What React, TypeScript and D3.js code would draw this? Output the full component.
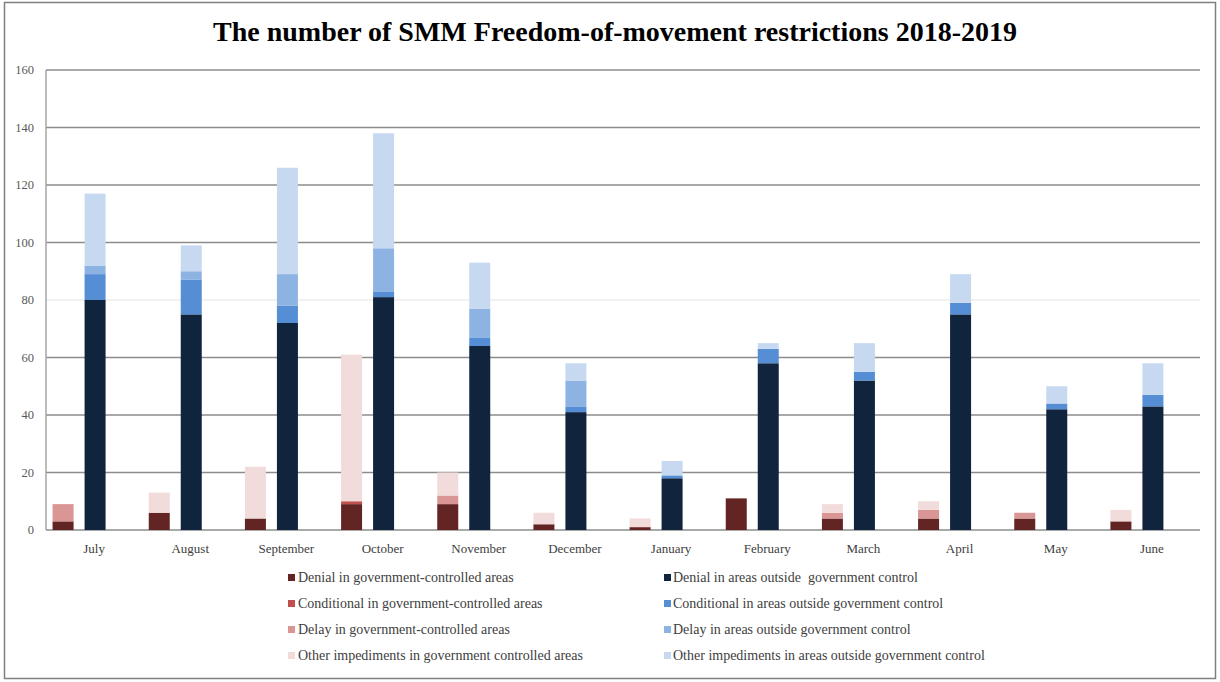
import React from "react";
import * as d3 from "d3";

const months = ["July", "August", "September", "October", "November", "December", "January", "February", "March", "April", "May", "June"];

// Government-controlled areas
const govDenial = [3, 6, 4, 9, 9, 2, 1, 11, 4, 4, 4, 3];
const govConditional = [0, 0, 0, 1, 0, 0, 0, 0, 0, 0, 0, 0];
const govDelay = [6, 0, 0, 0, 3, 0, 0, 0, 2, 3, 2, 0];
const govOther = [0, 7, 18, 51, 8, 4, 3, 0, 3, 3, 0, 4];

// Areas outside government control
const outDenial = [80, 75, 72, 81, 64, 41, 18, 58, 52, 75, 42, 43];
const outConditional = [9, 12, 6, 2, 3, 2, 1, 5, 3, 4, 2, 4];
const outDelay = [3, 3, 11, 15, 10, 9, 0, 0, 0, 0, 0, 0];
const outOther = [25, 9, 37, 40, 16, 6, 5, 2, 10, 10, 6, 11];

const yTicks = [0, 20, 40, 60, 80, 100, 120, 140, 160];

const govLabels = [
  "Denial in government-controlled areas",
  "Conditional in government-controlled areas",
  "Delay in government-controlled areas",
  "Other impediments in government controlled areas",
];
const outLabels = [
  "Denial in areas outside  government control",
  "Conditional in areas outside government control",
  "Delay in areas outside government control",
  "Other impediments in areas outside government control",
];

const govColors = ["#632523", "#c0504d", "#d99694", "#f2dcdb"];
const outColors = ["#10243e", "#558ed5", "#8db3e2", "#c6d9f1"];

const W = 1220;
const H = 682;
const plotLeft = 46;
const plotRight = 1200;
const plotTop = 70;
const plotBottom = 530;
const barW = 21;
const SERIF = "'Liberation Serif', 'Times New Roman', serif";

export default function App() {
  const x = d3.scaleBand<string>().domain(months).range([plotLeft, plotRight]).padding(0);
  const y = d3.scaleLinear().domain([0, 160]).range([plotBottom, plotTop]);

  const keys = ["a", "b", "c", "d"];
  const govRows = months.map((m, i) => ({ m, a: govDenial[i], b: govConditional[i], c: govDelay[i], d: govOther[i] }));
  const outRows = months.map((m, i) => ({ m, a: outDenial[i], b: outConditional[i], c: outDelay[i], d: outOther[i] }));
  const stack = d3.stack<any>().keys(keys);
  const govStack = stack(govRows);
  const outStack = stack(outRows);

  const center = (m: string) => (x(m) as number) + x.bandwidth() / 2;

  return (
    <div style={{ position: "absolute", left: 0, top: 0 }}>
      <svg width={W} height={H} style={{ display: "block", background: "#fff" }}>
        <rect x={4.5} y={2.5} width={1211} height={676} fill="#fff" stroke="#7f7f7f" strokeWidth={1.5} />
        <text
          x={615}
          y={41}
          textAnchor="middle"
          fontFamily={SERIF}
          fontWeight="bold"
          fontSize={27}
          textLength={804}
          lengthAdjust="spacingAndGlyphs"
          fill="#000"
        >
          The number of SMM Freedom-of-movement restrictions 2018-2019
        </text>

        {yTicks.map((t) => (
          <g key={t}>
            <line
              x1={plotLeft}
              x2={plotRight}
              y1={y(t)}
              y2={y(t)}
              stroke={t === 80 ? "#ececec" : "#8c8c8c"}
              strokeWidth={1.5}
            />
            <text x={34} y={y(t) + 4} textAnchor="end" fontFamily={SERIF} fontSize={12.5} fill="#595959">
              {t}
            </text>
          </g>
        ))}
        <line x1={plotLeft} x2={plotLeft} y1={plotTop} y2={plotBottom} stroke="#a6a6a6" strokeWidth={1.5} />

        {govStack.map((layer, li) =>
          layer.map((d, i) => (
            <rect
              key={`g${li}-${i}`}
              x={center(months[i]) - 31 - barW / 2}
              y={y(d[1])}
              width={barW}
              height={Math.max(0, y(d[0]) - y(d[1]))}
              fill={govColors[li]}
            />
          ))
        )}
        {outStack.map((layer, li) =>
          layer.map((d, i) => (
            <rect
              key={`o${li}-${i}`}
              x={center(months[i]) + 1 - barW / 2}
              y={y(d[1])}
              width={barW}
              height={Math.max(0, y(d[0]) - y(d[1]))}
              fill={outColors[li]}
            />
          ))
        )}

        {months.map((m) => (
          <text key={m} x={center(m)} y={553} textAnchor="middle" fontFamily={SERIF} fontSize={13} fill="#404040">
            {m}
          </text>
        ))}

        {govLabels.map((l, i) => (
          <g key={l}>
            <rect x={288} y={574 + i * 26} width={7} height={7} fill={govColors[i]} />
            <text x={298} y={582 + i * 26} fontFamily={SERIF} fontSize={14} fill="#404040">
              {l}
            </text>
          </g>
        ))}
        {outLabels.map((l, i) => (
          <g key={l}>
            <rect x={664} y={574 + i * 26} width={7} height={7} fill={outColors[i]} />
            <text x={673} y={582 + i * 26} fontFamily={SERIF} fontSize={14} fill="#404040" style={{ whiteSpace: "pre" }}>
              {l}
            </text>
          </g>
        ))}
      </svg>
    </div>
  );
}
